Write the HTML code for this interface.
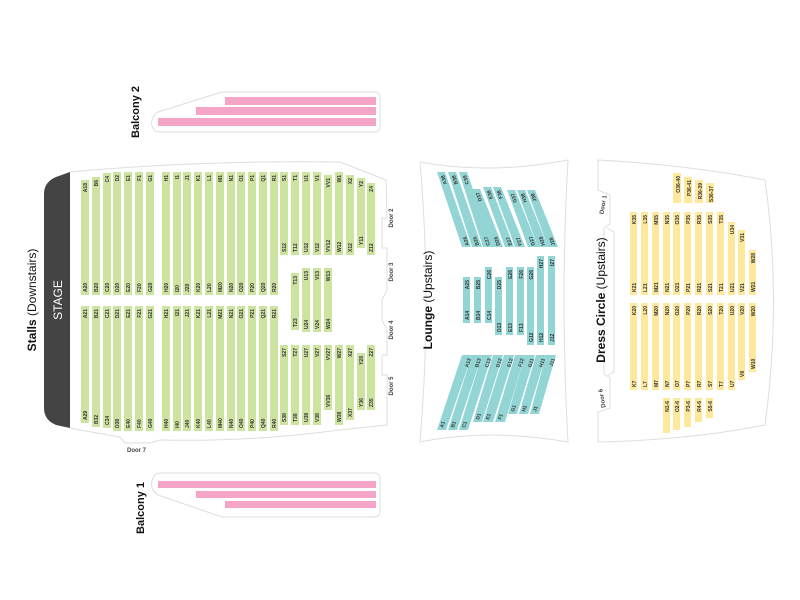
<!DOCTYPE html>
<html><head><meta charset="utf-8"><style>
html,body{margin:0;padding:0;background:#fff;}
svg{display:block;font-family:"Liberation Sans",sans-serif;}
.g{fill:#cde3a0}.t{fill:#93d5d4}.y{fill:#fde89c}.p{fill:#f5a6c8}
.l text{font-size:5px;fill:#333;font-weight:bold}
.o{fill:none;stroke:#dedede;stroke-width:1}
</style></head><body>
<svg width="800" height="600" viewBox="0 0 800 600" xmlns="http://www.w3.org/2000/svg">
<!-- Balcony 2 -->
<path class="o" d="M160,132 L374,132 Q380,132 380,126 L380,98 Q380,92 374,92 L222,92 L158,112 Q150,118 152,126 Q154,132 160,132 Z"/>
<rect class="p" x="225" y="97" width="151" height="8"/>
<rect class="p" x="196" y="107" width="180" height="8"/>
<rect class="p" x="158" y="118" width="218" height="8"/>
<text transform="translate(139,112) rotate(-90)" text-anchor="middle" font-size="11" font-weight="bold" fill="#111">Balcony 2</text>
<!-- Balcony 1 -->
<path class="o" d="M160,473 L374,473 Q380,473 380,479 L380,511 Q380,517 374,517 L222,517 L158,495 Q150,490 152,481 Q154,473 160,473 Z"/>
<rect class="p" x="158" y="481" width="218" height="7"/>
<rect class="p" x="196" y="491" width="180" height="7"/>
<rect class="p" x="225" y="501" width="151" height="7"/>
<text transform="translate(144,508) rotate(-90)" text-anchor="middle" font-size="11" font-weight="bold" fill="#111">Balcony 1</text>

<!-- Stalls outline -->
<path class="o" d="M70,172 Q200,160 340,162 L386,180 L387,218 L382,218 L382,248 L387,248 L387,290 L382,300 L382,320 L387,330 L387,355 L382,355 L382,375 L387,375 L387,425 L340,430 Q250,442 160,440 L150,443 L125,443 L120,437 Q90,432 70,428"/>
<path d="M56,177 L70,172 L70,428 L56,425 Q44,420 44,408 L44,194 Q44,182 56,177 Z" fill="#444"/>
<text transform="translate(62,300) rotate(-90)" text-anchor="middle" font-size="12" fill="#fff">STAGE</text>
<text transform="translate(36,300) rotate(-90)" text-anchor="middle" font-size="12" fill="#111"><tspan font-weight="bold">Stalls</tspan> (Downstairs)</text>
<g font-size="6" font-weight="bold" fill="#444">
<text transform="translate(393,218) rotate(-90)" text-anchor="middle">Door 2</text>
<text transform="translate(393,272) rotate(-90)" text-anchor="middle">Door 3</text>
<text transform="translate(393,330) rotate(-90)" text-anchor="middle">Door 4</text>
<text transform="translate(393,386) rotate(-90)" text-anchor="middle">Door 5</text>
<text x="127" y="452">Door 7</text>
</g>
<!-- Stalls seats -->
<g class="g">
<rect x="81" y="180" width="8" height="115"/><rect x="92" y="177" width="8" height="118"/><rect x="103" y="173" width="8" height="122"/>
<rect x="113" y="172" width="8" height="123"/><rect x="124" y="172" width="8" height="123"/><rect x="135" y="172" width="8" height="123"/><rect x="146" y="172" width="8" height="123"/>
<rect x="162" y="172" width="8" height="123"/><rect x="173" y="172" width="8" height="123"/><rect x="183" y="172" width="8" height="123"/><rect x="194" y="172" width="8" height="123"/><rect x="205" y="172" width="8" height="123"/><rect x="216" y="172" width="8" height="123"/><rect x="227" y="172" width="8" height="123"/><rect x="237" y="172" width="8" height="123"/><rect x="248" y="172" width="8" height="123"/><rect x="259" y="172" width="8" height="123"/><rect x="270" y="172" width="8" height="123"/>
<rect x="81" y="306" width="8" height="117"/><rect x="92" y="306" width="8" height="121"/><rect x="103" y="306" width="8" height="122"/>
<rect x="113" y="306" width="8" height="125"/><rect x="124" y="306" width="8" height="125"/><rect x="135" y="306" width="8" height="125"/><rect x="146" y="306" width="8" height="125"/>
<rect x="162" y="306" width="8" height="125"/><rect x="173" y="306" width="8" height="125"/><rect x="183" y="306" width="8" height="125"/><rect x="194" y="306" width="8" height="125"/><rect x="205" y="306" width="8" height="125"/><rect x="216" y="306" width="8" height="125"/><rect x="227" y="306" width="8" height="125"/><rect x="237" y="306" width="8" height="125"/><rect x="248" y="306" width="8" height="125"/><rect x="259" y="306" width="8" height="125"/><rect x="270" y="306" width="8" height="125"/>
<rect x="280" y="172" width="8" height="83"/><rect x="291" y="172" width="8" height="83"/><rect x="302" y="172" width="8" height="83"/><rect x="313" y="172" width="8" height="83"/><rect x="324" y="175" width="8" height="80"/><rect x="335" y="172" width="8" height="83"/><rect x="346" y="175" width="8" height="80"/><rect x="357" y="178" width="8" height="70"/><rect x="367" y="183" width="8" height="72"/>
<rect x="291" y="273" width="8" height="57"/><rect x="302" y="268" width="8" height="64"/><rect x="313" y="268" width="8" height="64"/><rect x="324" y="268" width="8" height="64"/>
<rect x="280" y="345" width="8" height="80"/><rect x="291" y="345" width="8" height="80"/><rect x="302" y="345" width="8" height="80"/><rect x="313" y="345" width="8" height="80"/><rect x="324" y="345" width="8" height="65"/><rect x="335" y="345" width="8" height="80"/><rect x="346" y="345" width="8" height="75"/><rect x="357" y="353" width="8" height="57"/><rect x="367" y="345" width="8" height="65"/>
</g>
<g class="l">
<g text-anchor="end">
<text transform="translate(87,183) rotate(-90)">A18</text><text transform="translate(98,180) rotate(-90)">B6</text><text transform="translate(109,176) rotate(-90)">C4</text><text transform="translate(119,175) rotate(-90)">D2</text><text transform="translate(130,175) rotate(-90)">E1</text><text transform="translate(141,175) rotate(-90)">F1</text><text transform="translate(152,175) rotate(-90)">G1</text>
<text transform="translate(168,175) rotate(-90)">H1</text><text transform="translate(179,175) rotate(-90)">I1</text><text transform="translate(189,175) rotate(-90)">J1</text><text transform="translate(200,175) rotate(-90)">K1</text><text transform="translate(211,175) rotate(-90)">L1</text><text transform="translate(222,175) rotate(-90)">M1</text><text transform="translate(233,175) rotate(-90)">N1</text><text transform="translate(243,175) rotate(-90)">O1</text><text transform="translate(254,175) rotate(-90)">P1</text><text transform="translate(265,175) rotate(-90)">Q1</text><text transform="translate(276,175) rotate(-90)">R1</text>
<text transform="translate(286,175) rotate(-90)">S1</text><text transform="translate(297,175) rotate(-90)">T1</text><text transform="translate(308,175) rotate(-90)">U1</text><text transform="translate(319,175) rotate(-90)">V1</text><text transform="translate(330,178) rotate(-90)">VV1</text><text transform="translate(341,175) rotate(-90)">W1</text><text transform="translate(352,178) rotate(-90)">X2</text><text transform="translate(363,181) rotate(-90)">Y2</text><text transform="translate(373,186) rotate(-90)">Z4</text>
<text transform="translate(87,309) rotate(-90)">A21</text><text transform="translate(98,309) rotate(-90)">B21</text><text transform="translate(109,309) rotate(-90)">C21</text><text transform="translate(119,309) rotate(-90)">D21</text><text transform="translate(130,309) rotate(-90)">E21</text><text transform="translate(141,309) rotate(-90)">F21</text><text transform="translate(152,309) rotate(-90)">G21</text>
<text transform="translate(168,309) rotate(-90)">H21</text><text transform="translate(179,309) rotate(-90)">I21</text><text transform="translate(189,309) rotate(-90)">J21</text><text transform="translate(200,309) rotate(-90)">K21</text><text transform="translate(211,309) rotate(-90)">L21</text><text transform="translate(222,309) rotate(-90)">M21</text><text transform="translate(233,309) rotate(-90)">N21</text><text transform="translate(243,309) rotate(-90)">O21</text><text transform="translate(254,309) rotate(-90)">P21</text><text transform="translate(265,309) rotate(-90)">Q21</text><text transform="translate(276,309) rotate(-90)">R21</text>
<text transform="translate(297,276) rotate(-90)">T13</text><text transform="translate(308,271) rotate(-90)">U13</text><text transform="translate(319,271) rotate(-90)">V13</text><text transform="translate(330,271) rotate(-90)">W13</text>
<text transform="translate(286,348) rotate(-90)">S27</text><text transform="translate(297,348) rotate(-90)">T27</text><text transform="translate(308,348) rotate(-90)">U27</text><text transform="translate(319,348) rotate(-90)">V27</text><text transform="translate(330,348) rotate(-90)">VV27</text><text transform="translate(341,348) rotate(-90)">W27</text><text transform="translate(352,348) rotate(-90)">X27</text><text transform="translate(363,356) rotate(-90)">Y28</text><text transform="translate(373,348) rotate(-90)">Z27</text>
</g>
<g text-anchor="start">
<text transform="translate(87,292) rotate(-90)">A20</text><text transform="translate(98,292) rotate(-90)">B20</text><text transform="translate(109,292) rotate(-90)">C20</text><text transform="translate(119,292) rotate(-90)">D20</text><text transform="translate(130,292) rotate(-90)">E20</text><text transform="translate(141,292) rotate(-90)">F20</text><text transform="translate(152,292) rotate(-90)">G20</text>
<text transform="translate(168,292) rotate(-90)">H20</text><text transform="translate(179,292) rotate(-90)">I20</text><text transform="translate(189,292) rotate(-90)">J20</text><text transform="translate(200,292) rotate(-90)">K20</text><text transform="translate(211,292) rotate(-90)">L20</text><text transform="translate(222,292) rotate(-90)">M20</text><text transform="translate(233,292) rotate(-90)">N20</text><text transform="translate(243,292) rotate(-90)">O20</text><text transform="translate(254,292) rotate(-90)">P20</text><text transform="translate(265,292) rotate(-90)">Q20</text><text transform="translate(276,292) rotate(-90)">R20</text>
<text transform="translate(286,252) rotate(-90)">S12</text><text transform="translate(297,252) rotate(-90)">T12</text><text transform="translate(308,252) rotate(-90)">U12</text><text transform="translate(319,252) rotate(-90)">V12</text><text transform="translate(330,252) rotate(-90)">VV12</text><text transform="translate(341,252) rotate(-90)">W12</text><text transform="translate(352,252) rotate(-90)">X12</text><text transform="translate(363,245) rotate(-90)">Y11</text><text transform="translate(373,252) rotate(-90)">Z12</text>
<text transform="translate(297,327) rotate(-90)">T23</text><text transform="translate(308,329) rotate(-90)">U24</text><text transform="translate(319,329) rotate(-90)">V24</text><text transform="translate(330,329) rotate(-90)">W24</text>
<text transform="translate(87,420) rotate(-90)">A29</text><text transform="translate(98,424) rotate(-90)">B32</text><text transform="translate(109,425) rotate(-90)">C34</text><text transform="translate(119,428) rotate(-90)">D38</text><text transform="translate(130,428) rotate(-90)">E40</text><text transform="translate(141,428) rotate(-90)">F40</text><text transform="translate(152,428) rotate(-90)">G40</text>
<text transform="translate(168,428) rotate(-90)">H40</text><text transform="translate(179,428) rotate(-90)">I40</text><text transform="translate(189,428) rotate(-90)">J40</text><text transform="translate(200,428) rotate(-90)">K40</text><text transform="translate(211,428) rotate(-90)">L40</text><text transform="translate(222,428) rotate(-90)">M40</text><text transform="translate(233,428) rotate(-90)">N40</text><text transform="translate(243,428) rotate(-90)">O40</text><text transform="translate(254,428) rotate(-90)">P40</text><text transform="translate(265,428) rotate(-90)">Q40</text><text transform="translate(276,428) rotate(-90)">R40</text>
<text transform="translate(286,422) rotate(-90)">S38</text><text transform="translate(297,422) rotate(-90)">T38</text><text transform="translate(308,422) rotate(-90)">U38</text><text transform="translate(319,422) rotate(-90)">V38</text><text transform="translate(330,407) rotate(-90)">VV36</text><text transform="translate(341,422) rotate(-90)">W38</text><text transform="translate(352,417) rotate(-90)">X37</text><text transform="translate(363,407) rotate(-90)">Y36</text><text transform="translate(373,407) rotate(-90)">Z35</text>
</g>
</g>

<!-- Lounge -->
<path class="o" d="M420,162 Q490,175 568,160 Q560,300 568,442 Q490,428 420,442 Q432,300 420,162 Z"/>
<text transform="translate(432,300) rotate(-90)" text-anchor="middle" font-size="12" fill="#111"><tspan font-weight="bold">Lounge</tspan> (Upstairs)</text>
<g class="t">
<polygon points="437,172 445,172 471,247 462,247"/><polygon points="448,172 456,172 482,247 472,247"/><polygon points="459,172 467,172 493,247 483,247"/>
<polygon points="472,189 480,189 503,247 493,247"/><polygon points="483,187 491,187 514,247 505,247"/><polygon points="493,187 501,187 525,247 515,247"/>
<polygon points="507,190 515,190 538,247 528,247"/><polygon points="517,190 525,190 548,247 538,247"/><polygon points="527,190 535,190 558,247 548,247"/>
<polygon points="462,355 472,355 446,430 437,430"/><polygon points="472,355 482,355 457,430 448,430"/><polygon points="482,355 492,355 468,430 459,430"/>
<polygon points="493,355 503,355 482,422 473,422"/><polygon points="504,355 514,355 493,422 483,422"/><polygon points="515,355 525,355 505,422 495,422"/>
<polygon points="525,355 535,355 517,414 508,414"/><polygon points="536,355 546,355 528,414 519,414"/><polygon points="546,355 556,355 539,414 530,414"/>
<rect x="463" y="277" width="7" height="46"/><rect x="474" y="277" width="7" height="46"/><rect x="485" y="267" width="7" height="56"/>
<rect x="495" y="277" width="7" height="58"/><rect x="506" y="267" width="7" height="68"/><rect x="517" y="267" width="7" height="68"/>
<rect x="527" y="267" width="7" height="78"/><rect x="537" y="256" width="7" height="89"/><rect x="548" y="256" width="7" height="89"/>
</g>
<g class="l" text-anchor="end">
<text transform="translate(444,175) rotate(-108)">A38</text><text transform="translate(455,175) rotate(-108)">B38</text><text transform="translate(466,175) rotate(-108)">C39</text>
<text transform="translate(479,192) rotate(-108)">D37</text><text transform="translate(490,190) rotate(-108)">E38</text><text transform="translate(500,190) rotate(-108)">F38</text>
<text transform="translate(514,193) rotate(-108)">G37</text><text transform="translate(524,193) rotate(-108)">H38</text><text transform="translate(534,193) rotate(-108)">J38</text>
<text transform="translate(471,359) rotate(-72)">A13</text><text transform="translate(481,359) rotate(-72)">B13</text><text transform="translate(491,359) rotate(-72)">C13</text>
<text transform="translate(502,359) rotate(-72)">D12</text><text transform="translate(513,359) rotate(-72)">E12</text><text transform="translate(524,359) rotate(-72)">F12</text>
<text transform="translate(534,359) rotate(-72)">G11</text><text transform="translate(545,359) rotate(-72)">H11</text><text transform="translate(555,359) rotate(-72)">J11</text>
</g>
<g class="l" text-anchor="start">
<text transform="translate(469,245) rotate(-108)">A26</text><text transform="translate(479,245) rotate(-108)">B26</text><text transform="translate(490,245) rotate(-108)">C27</text>
<text transform="translate(500,245) rotate(-108)">D26</text><text transform="translate(512,245) rotate(-108)">E27</text><text transform="translate(522,245) rotate(-108)">F27</text>
<text transform="translate(535,245) rotate(-108)">G27</text><text transform="translate(545,245) rotate(-108)">H28</text><text transform="translate(555,245) rotate(-108)">J28</text>
<text transform="translate(443,428) rotate(-72)">A1</text><text transform="translate(454,428) rotate(-72)">B1</text><text transform="translate(465,428) rotate(-72)">C1</text>
<text transform="translate(479,420) rotate(-72)">D1</text><text transform="translate(489,420) rotate(-72)">E1</text><text transform="translate(501,420) rotate(-72)">F1</text>
<text transform="translate(514,412) rotate(-72)">G1</text><text transform="translate(525,412) rotate(-72)">H1</text><text transform="translate(536,412) rotate(-72)">J1</text>
</g>
<g class="l" text-anchor="end">
<text transform="translate(469,280) rotate(-90)">A25</text><text transform="translate(480,280) rotate(-90)">B25</text><text transform="translate(491,270) rotate(-90)">C26</text><text transform="translate(501,280) rotate(-90)">D25</text><text transform="translate(512,270) rotate(-90)">E26</text><text transform="translate(523,270) rotate(-90)">F26</text><text transform="translate(533,270) rotate(-90)">G26</text><text transform="translate(543,259) rotate(-90)">H27</text><text transform="translate(554,259) rotate(-90)">I27</text>
</g>
<g class="l" text-anchor="start">
<text transform="translate(469,320) rotate(-90)">A14</text><text transform="translate(480,320) rotate(-90)">B14</text><text transform="translate(491,320) rotate(-90)">C14</text><text transform="translate(501,332) rotate(-90)">D13</text><text transform="translate(512,332) rotate(-90)">E13</text><text transform="translate(523,332) rotate(-90)">F13</text><text transform="translate(533,342) rotate(-90)">G12</text><text transform="translate(543,342) rotate(-90)">H12</text><text transform="translate(554,342) rotate(-90)">J12</text>
</g>

<!-- Dress Circle -->
<path class="o" d="M598,160 Q690,165 765,180 Q782,300 765,425 Q690,440 598,442 L598,412 L610,408 L610,378 L604,374 L604,228 L610,224 L610,195 L598,190 Z"/>
<path class="o" d="M607,228 L614,232 L614,372 L607,376"/>
<text transform="translate(605,300) rotate(-90)" text-anchor="middle" font-size="12" fill="#111"><tspan font-weight="bold">Dress Circle</tspan> (Upstairs)</text>
<g font-size="6" font-weight="bold" fill="#444">
<text transform="translate(605,205) rotate(-80)" text-anchor="middle">Door 1</text>
<text transform="translate(604,398) rotate(-100)" text-anchor="middle">Door 6</text>
</g>
<g class="y">
<rect x="630" y="212" width="7" height="83"/><rect x="641" y="212" width="7" height="83"/><rect x="652" y="212" width="7" height="83"/><rect x="663" y="212" width="7" height="83"/><rect x="673" y="212" width="7" height="83"/><rect x="684" y="212" width="7" height="83"/><rect x="695" y="212" width="7" height="83"/><rect x="706" y="212" width="7" height="83"/><rect x="717" y="212" width="7" height="83"/>
<rect x="728" y="222" width="7" height="73"/><rect x="738" y="230" width="7" height="65"/><rect x="749" y="250" width="7" height="45"/>
<rect x="630" y="303" width="7" height="87"/><rect x="641" y="303" width="7" height="87"/><rect x="652" y="303" width="7" height="87"/><rect x="663" y="303" width="7" height="87"/><rect x="673" y="303" width="7" height="87"/><rect x="684" y="303" width="7" height="87"/><rect x="695" y="303" width="7" height="87"/><rect x="706" y="303" width="7" height="87"/><rect x="717" y="303" width="7" height="87"/><rect x="728" y="303" width="7" height="87"/>
<rect x="738" y="303" width="7" height="77"/><rect x="749" y="303" width="7" height="69"/>
<rect x="673" y="173" width="8" height="30"/><rect x="684" y="177" width="8" height="26"/><rect x="695" y="180" width="8" height="23"/><rect x="706" y="183" width="8" height="20"/>
<rect x="663" y="398" width="7" height="35"/><rect x="673" y="398" width="7" height="32"/><rect x="684" y="398" width="7" height="29"/><rect x="695" y="398" width="7" height="24"/><rect x="706" y="398" width="7" height="20"/>
</g>
<g class="l" text-anchor="end">
<text transform="translate(636,215) rotate(-90)">K35</text><text transform="translate(647,215) rotate(-90)">L35</text><text transform="translate(658,215) rotate(-90)">M35</text><text transform="translate(669,215) rotate(-90)">N35</text><text transform="translate(679,215) rotate(-90)">O35</text><text transform="translate(690,215) rotate(-90)">P35</text><text transform="translate(701,215) rotate(-90)">R35</text><text transform="translate(712,215) rotate(-90)">S35</text><text transform="translate(723,215) rotate(-90)">T35</text><text transform="translate(734,225) rotate(-90)">U34</text><text transform="translate(744,233) rotate(-90)">V31</text><text transform="translate(755,253) rotate(-90)">W28</text>
<text transform="translate(636,306) rotate(-90)">K20</text><text transform="translate(647,306) rotate(-90)">L20</text><text transform="translate(658,306) rotate(-90)">M20</text><text transform="translate(669,306) rotate(-90)">N20</text><text transform="translate(679,306) rotate(-90)">O20</text><text transform="translate(690,306) rotate(-90)">P20</text><text transform="translate(701,306) rotate(-90)">R20</text><text transform="translate(712,306) rotate(-90)">S20</text><text transform="translate(723,306) rotate(-90)">T20</text><text transform="translate(734,306) rotate(-90)">U20</text><text transform="translate(744,306) rotate(-90)">V20</text><text transform="translate(755,306) rotate(-90)">W20</text>
<text transform="translate(680,176) rotate(-90)">O36-40</text><text transform="translate(691,180) rotate(-90)">P36-41</text><text transform="translate(702,183) rotate(-90)">R36-39</text><text transform="translate(713,186) rotate(-90)">S36-37</text>
<text transform="translate(669,401) rotate(-90)">N1-6</text><text transform="translate(679,401) rotate(-90)">O2-6</text><text transform="translate(690,401) rotate(-90)">P3-6</text><text transform="translate(701,401) rotate(-90)">R4-6</text><text transform="translate(712,401) rotate(-90)">S5-6</text>
</g>
<g class="l" text-anchor="start">
<text transform="translate(636,292) rotate(-90)">K21</text><text transform="translate(647,292) rotate(-90)">L21</text><text transform="translate(658,292) rotate(-90)">M21</text><text transform="translate(669,292) rotate(-90)">N21</text><text transform="translate(679,292) rotate(-90)">O21</text><text transform="translate(690,292) rotate(-90)">P21</text><text transform="translate(701,292) rotate(-90)">R21</text><text transform="translate(712,292) rotate(-90)">S21</text><text transform="translate(723,292) rotate(-90)">T21</text><text transform="translate(734,292) rotate(-90)">U21</text><text transform="translate(744,292) rotate(-90)">V21</text><text transform="translate(755,292) rotate(-90)">W21</text>
<text transform="translate(636,387) rotate(-90)">K7</text><text transform="translate(647,387) rotate(-90)">L7</text><text transform="translate(658,387) rotate(-90)">M7</text><text transform="translate(669,387) rotate(-90)">N7</text><text transform="translate(679,387) rotate(-90)">O7</text><text transform="translate(690,387) rotate(-90)">P7</text><text transform="translate(701,387) rotate(-90)">R7</text><text transform="translate(712,387) rotate(-90)">S7</text><text transform="translate(723,387) rotate(-90)">T7</text><text transform="translate(734,387) rotate(-90)">U7</text><text transform="translate(744,377) rotate(-90)">V8</text><text transform="translate(755,369) rotate(-90)">W10</text>
</g>
</svg>
</body></html>
